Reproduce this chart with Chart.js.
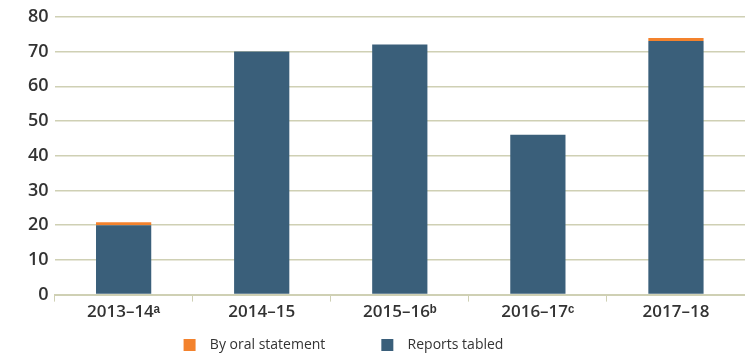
<!DOCTYPE html>
<html>
<head>
<meta charset="utf-8">
<script src="https://cdn.jsdelivr.net/npm/chart.js@4.4.1/dist/chart.umd.min.js"></script>
<style>
html,body{margin:0;padding:0;background:#fff;}
#wrap{width:745px;height:363px;position:relative;}
</style>
</head>
<body>
<div id="wrap"><canvas id="c" width="745" height="363"></canvas></div>
<script>
const categories = ["2013–14ᵃ", "2014–15", "2015–16ᵇ", "2016–17ᶜ", "2017–18"];
const reportsTabled = [20, 70, 72, 46, 73];
const byOralStatement = [0.8, 0, 0, 0, 0.9];
const yTicks = [0, 10, 20, 30, 40, 50, 60, 70, 80];

const BLUE = "#3a5f7a";
const ORANGE = "#f3822d";
const GRID = "#cfd0b4";
const TEXT = "#333333";

new Chart(document.getElementById("c"), {
  type: "bar",
  data: {
    labels: categories,
    datasets: [
      { label: "Reports tabled", data: reportsTabled, backgroundColor: BLUE, borderWidth: 0, categoryPercentage: 1, barPercentage: 0.4 },
      { label: "By oral statement", data: byOralStatement, backgroundColor: ORANGE, borderWidth: 0, categoryPercentage: 1, barPercentage: 0.4 }
    ]
  },
  options: {
    responsive: false,
    animation: false,
    devicePixelRatio: 1,
    layout: { padding: { left: 22, right: 0, top: 0, bottom: 1 } },
    plugins: {
      tooltip: { enabled: false },
      legend: {
        position: "bottom",
        reverse: true,
        labels: {
          boxWidth: 12, boxHeight: 12, padding: 16,
          color: TEXT,
          font: { family: "'Open Sans', sans-serif", size: 14 },
          generateLabels(chart) {
            const items = Chart.defaults.plugins.legend.labels.generateLabels(chart);
            items.forEach(i => {
              const pad = i.datasetIndex === 1 ? "           " : "                      ";
              i.text = "  " + i.text + pad;
              i.lineWidth = 0;
            });
            return items;
          }
        }
      }
    },
    scales: {
      x: {
        stacked: true,
        offset: true,
        border: { display: true, color: GRID, width: 2 },
        grid: { display: true, drawOnChartArea: false, drawTicks: true, tickLength: 7, color: GRID, offset: true },
        ticks: { color: TEXT, font: { family: "'Open Sans', sans-serif", size: 17, weight: "600" }, padding: 0 }
      },
      y: {
        stacked: true,
        min: 0, max: 80,
        afterBuildTicks(axis) { axis.ticks = yTicks.map(v => ({ value: v })); },
        border: { display: false },
        grid: { color: GRID, lineWidth: 1.5, drawTicks: false },
        ticks: { color: TEXT, font: { family: "'Open Sans', sans-serif", size: 18, weight: "600" }, padding: 6 }
      }
    }
  }
});
</script>
</body>
</html>
